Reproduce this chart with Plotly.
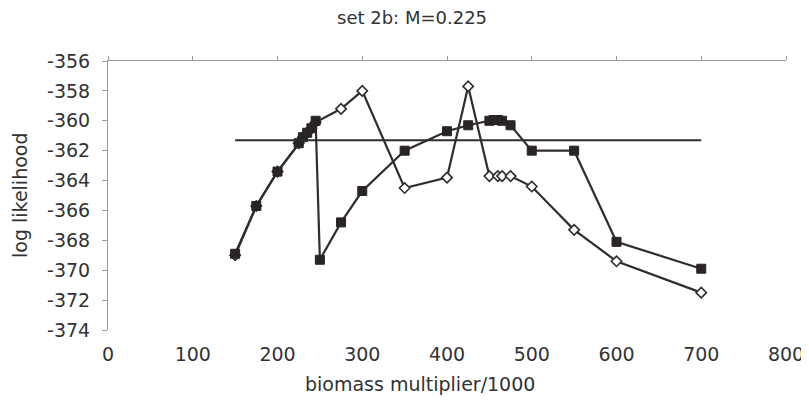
import plotly.graph_objects as go

# ---- data ----
sq_x = [150, 175, 200, 225, 230, 235, 240, 245, 250, 275, 300, 350, 400, 425,
        450, 455, 460, 465, 475, 500, 550, 600, 700]
sq_y = [-368.9, -365.7, -363.4, -361.5, -361.1, -360.8, -360.5, -360.0, -369.3,
        -366.8, -364.7, -362.0, -360.7, -360.3, -360.0, -359.95, -359.95, -360.0,
        -360.3, -362.0, -362.0, -368.1, -369.9]

di_x = [150, 175, 200, 225, 230, 235, 240, 245, 275, 300, 350, 400, 425,
        450, 460, 465, 475, 500, 550, 600, 700]
di_y = [-369.0, -365.7, -363.4, -361.5, -361.1, -360.8, -360.5, -360.1, -359.2,
        -358.0, -364.5, -363.8, -357.7, -363.7, -363.7, -363.7, -363.7, -364.4,
        -367.3, -369.4, -371.5]

ref_x = [150, 700]
ref_y = [-361.3, -361.3]

x_ticks = [0, 100, 200, 300, 400, 500, 600, 700, 800]
y_ticks = [-356, -358, -360, -362, -364, -366, -368, -370, -372, -374]

INK = "#2e2e2e"
AX = "#9a9a9a"
FONT = "DejaVu Sans"

fig = go.Figure()

fig.add_trace(go.Scatter(
    x=ref_x, y=ref_y, mode="lines", xaxis="x2", yaxis="y",
    line=dict(color=INK, width=2), showlegend=False, hoverinfo="skip"))

fig.add_trace(go.Scatter(
    x=di_x, y=di_y, mode="lines+markers",
    line=dict(color=INK, width=2.2),
    marker=dict(symbol="diamond", size=8, color="white",
                line=dict(color=INK, width=1.6)),
    showlegend=False))

fig.add_trace(go.Scatter(
    x=sq_x, y=sq_y, mode="lines+markers",
    line=dict(color=INK, width=2.2),
    marker=dict(symbol="square", size=9, color="#2a2424",
                line=dict(color="#2a2424", width=1)),
    showlegend=False))

# page body has an 8px margin, so the figure is drawn 8px right and down
fig.update_layout(
    width=809, height=406,
    margin=dict(l=100, r=31, t=53, b=84, autoexpand=False),
    paper_bgcolor="white", plot_bgcolor="white",
    font=dict(family=FONT, size=19, color="#333"),
    showlegend=False,
    xaxis=dict(range=[0, 800], tickvals=x_ticks, ticktext=[str(v) for v in x_ticks],
               showline=False, ticks="", showgrid=False, zeroline=False,
               ticklabelstandoff=11, automargin=False,
               tickfont=dict(family=FONT, size=19, color="#333")),
    xaxis2=dict(range=[0, 800], overlaying="x", side="top", anchor="y",
                tickvals=x_ticks, showticklabels=False, showline=True,
                linecolor=AX, linewidth=1, ticks="outside", ticklen=4,
                tickcolor=AX, showgrid=False, zeroline=False, automargin=False),
    yaxis=dict(range=[-374, -356], tickvals=y_ticks,
               ticktext=[str(v) for v in y_ticks],
               showline=True, linecolor=AX, linewidth=1, ticks="outside",
               ticklen=5, tickcolor=AX, showgrid=False, zeroline=False,
               ticklabelstandoff=8, automargin=False,
               tickfont=dict(family=FONT, size=19, color="#333")),
    annotations=[
        dict(text="set 2b: M=0.225", xref="paper", yref="paper", x=(412 - 108) / 678,
             y=1, yshift=44, showarrow=False, xanchor="center", yanchor="middle",
             font=dict(family=FONT, size=18, color="#333")),
        dict(text="biomass multiplier/1000", xref="paper", yref="paper",
             x=(420 - 108) / 678, y=0, yshift=-54, showarrow=False,
             xanchor="center", yanchor="middle",
             font=dict(family=FONT, size=19, color="#333")),
        dict(text="log likelihood", xref="paper", yref="paper", x=0, xshift=-88,
             y=(330 - 195) / 269, showarrow=False, textangle=-90,
             xanchor="center", yanchor="middle",
             font=dict(family=FONT, size=19, color="#333")),
    ],
)

fig.write_html("out.html")
